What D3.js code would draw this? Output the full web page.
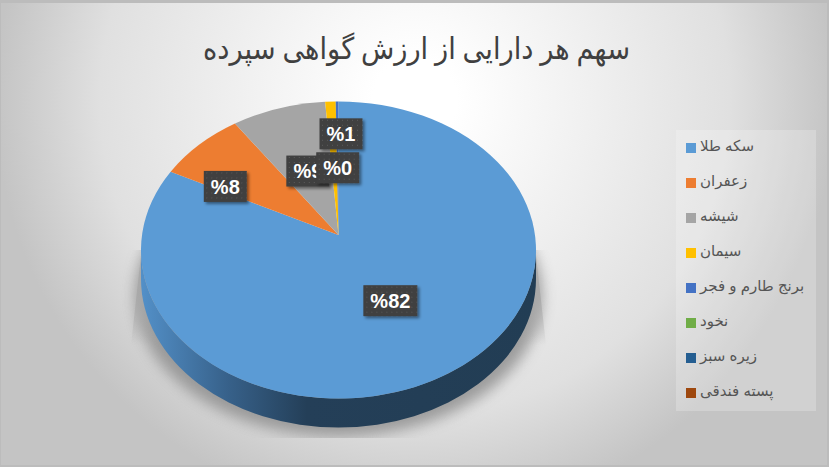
<!DOCTYPE html>
<html>
<head>
<meta charset="utf-8">
<script src="https://cdn.jsdelivr.net/npm/d3@7"></script>
<style>
  html, body { margin: 0; padding: 0; background: #fff; }
  svg { display: block; }
</style>
</head>
<body>
<div id="chart"></div>
<script>
const chartTitle = "سهم هر دارایی از ارزش گواهی سپرده";
const categories = ["سکه طلا", "زعفران", "شیشه", "سیمان", "برنج طارم و فجر", "نخود", "زیره سبز", "پسته فندقی"];
const shares = [82.4, 7.9, 8.5, 0.95, 0.25, 0, 0, 0];
const sliceColors = ["#5b9bd5", "#ed7d31", "#a5a5a5", "#ffc000", "#4472c4", "#70ad47", "#255e91", "#9e480e"];
// hand placed labels, offset in px from the middle of each slice
const labelNudge = [[0, 2.5], [-38.5, 0], [2.5, 6], [7, -27], [0, 7]];
// drawing order of the labels, last one on top
const labelOrder = [0, 1, 2, 3, 4];

const width = 829, height = 467;
// the pie is tilted, so the apex sits above the centre of the ellipse
const cx = 338.5, cy = 250, rx = 197.5, ry = 148.5, apexY = 235, depth = 29;

const svg = d3.select("#chart").append("svg")
    .attr("width", width)
    .attr("height", height)
    .attr("viewBox", [0, 0, width, height]);

const defs = svg.append("defs");

const bg = defs.append("radialGradient")
    .attr("id", "bg")
    .attr("gradientUnits", "userSpaceOnUse")
    .attr("cx", 415).attr("cy", 100).attr("r", 420);
bg.append("stop").attr("offset", "0.1").attr("stop-color", "#ffffff");
bg.append("stop").attr("offset", "0.75").attr("stop-color", "#e0e0e0");
bg.append("stop").attr("offset", "1").attr("stop-color", "#c4c4c4");

const wall = defs.append("linearGradient")
    .attr("id", "wall")
    .attr("gradientUnits", "userSpaceOnUse")
    .attr("x1", cx - rx).attr("x2", cx + rx).attr("y1", 0).attr("y2", 0);
wall.append("stop").attr("offset", "0").attr("stop-color", "#5390c8");
wall.append("stop").attr("offset", "0.22").attr("stop-color", "#37618a");
wall.append("stop").attr("offset", "0.42").attr("stop-color", "#243f58");
wall.append("stop").attr("offset", "1").attr("stop-color", "#223d54");

const wedgeFade = defs.append("linearGradient")
    .attr("id", "wedgeFade")
    .attr("gradientUnits", "userSpaceOnUse")
    .attr("x1", 0).attr("x2", 0).attr("y1", cy - 30).attr("y2", cy + 95);
wedgeFade.append("stop").attr("offset", "0").attr("stop-color", "#a8a8a8").attr("stop-opacity", 0.6);
wedgeFade.append("stop").attr("offset", "0.6").attr("stop-color", "#a8a8a8").attr("stop-opacity", 0.9);
wedgeFade.append("stop").attr("offset", "1").attr("stop-color", "#a8a8a8").attr("stop-opacity", 0);

defs.append("filter").attr("id", "blur")
    .attr("x", "-20%").attr("y", "-20%").attr("width", "140%").attr("height", "140%")
  .append("feGaussianBlur").attr("stdDeviation", 7);

defs.append("clipPath").attr("id", "shadowClip")
  .append("rect").attr("x", 100).attr("y", 250).attr("width", 480).attr("height", 188);

const lblShadow = defs.append("filter").attr("id", "lblShadow")
    .attr("x", "-20%").attr("y", "-20%").attr("width", "150%").attr("height", "150%");
lblShadow.append("feDropShadow")
    .attr("dx", 2).attr("dy", 2).attr("stdDeviation", 1.6)
    .attr("flood-color", "#000").attr("flood-opacity", 0.45);

const dots = defs.append("pattern").attr("id", "dots")
    .attr("patternUnits", "userSpaceOnUse").attr("width", 5).attr("height", 5);
dots.append("rect").attr("width", 5).attr("height", 5).attr("fill", "#404040");
dots.append("rect").attr("x", 1).attr("y", 1).attr("width", 1).attr("height", 1).attr("fill", "#5a5a5a");

// chart area
svg.append("rect").attr("width", width).attr("height", height).attr("fill", "#bcbcbc");
svg.append("rect")
    .attr("x", 1).attr("y", 3)
    .attr("width", width - 3).attr("height", height - 5)
    .attr("fill", "url(#bg)");

svg.append("text")
    .attr("x", 416.5)
    .attr("y", 59)
    .attr("text-anchor", "middle")
    .attr("textLength", 427)
    .attr("lengthAdjust", "spacingAndGlyphs")
    .style("direction", "rtl")
    .style("font-family", "'Liberation Serif','DejaVu Sans',sans-serif")
    .style("font-size", "30px")
    .attr("fill", "#404040")
    .text(chartTitle);

// ground shadow, a round part under the wall and a wedge each side
const shadow = svg.append("g").attr("clip-path", "url(#shadowClip)");
shadow.append("ellipse")
    .attr("cx", cx).attr("cy", cy + 45)
    .attr("rx", rx + 6).attr("ry", ry - 7)
    .attr("fill", "#8f8f8f")
    .attr("opacity", 0.85)
    .attr("filter", "url(#blur)");

svg.append("g").selectAll("path")
  .data([-1, 1])
  .join("path")
    .attr("d", s => `M${cx + s * (rx - 4)},${cy - 30} L${cx + s * (rx + 10)},${cy + 95} L${cx + s * (rx - 40)},${cy + 95} Z`)
    .attr("fill", "url(#wedgeFade)");

// from pie angle to the point where the ray from the apex meets the ellipse
function rimPoint(a) {
  const dx = Math.sin(a) * rx, dy = -Math.cos(a) * ry;
  const o = apexY - cy;
  const A = dx * dx / (rx * rx) + dy * dy / (ry * ry);
  const B = 2 * o * dy / (ry * ry);
  const C = o * o / (ry * ry) - 1;
  const t = (-B + Math.sqrt(B * B - 4 * A * C)) / (2 * A);
  return [cx + dx * t, apexY + dy * t];
}

const pie = d3.pie().sort(null).value(d => d.value);
const color = d3.scaleOrdinal().domain(categories).range(sliceColors);
const arcs = pie(categories.map((name, i) => ({name, value: shares[i]})));

function slicePath(d) {
  const [x0, y0] = rimPoint(d.startAngle);
  const [x1, y1] = rimPoint(d.endAngle);
  const large = d.endAngle - d.startAngle > Math.PI ? 1 : 0;
  return `M${cx},${apexY} L${x0},${y0} A${rx},${ry} 0 ${large} 1 ${x1},${y1} Z`;
}

// side wall, only the front half of the rim shows
svg.append("path")
    .attr("d", `M${cx - rx},${cy} A${rx},${ry} 0 0 0 ${cx + rx},${cy} L${cx + rx},${cy + depth} A${rx},${ry} 0 0 1 ${cx - rx},${cy + depth} Z`)
    .attr("fill", "url(#wall)");

const visible = arcs.filter(d => d.data.value > 0);

svg.append("g").selectAll("path")
  .data(visible)
  .join("path")
    .attr("d", slicePath)
    .attr("fill", d => color(d.data.name));

// data labels
const labels = svg.append("g").selectAll("g")
  .data(labelOrder.map(i => ({arc: visible[i], nudge: labelNudge[i]})))
  .join("g")
    .attr("transform", d => {
      const mid = (d.arc.startAngle + d.arc.endAngle) / 2;
      const x = cx + Math.sin(mid) * rx * 0.5 + d.nudge[0];
      const y = apexY - Math.cos(mid) * ry * 0.5 + d.nudge[1];
      return `translate(${x},${y})`;
    });

labels.append("rect")
    .attr("x", d => d.arc.data.value >= 9.5 ? -27 : -21.5)
    .attr("y", -15.5)
    .attr("width", d => d.arc.data.value >= 9.5 ? 54 : 43)
    .attr("height", 31)
    .attr("fill", "url(#dots)")
    .attr("filter", "url(#lblShadow)");

labels.append("text")
    .attr("text-anchor", "middle")
    .attr("dy", "0.36em")
    .style("font-family", "'Liberation Sans',Arial,sans-serif")
    .style("font-weight", "bold")
    .style("font-size", "20px")
    .style("direction", "ltr")
    .attr("fill", "#fff")
    .text(d => "%" + Math.round(d.arc.data.value));

// legend
const legendBox = svg.append("g");
legendBox.append("rect")
    .attr("x", 676).attr("y", 130)
    .attr("width", 140).attr("height", 281)
    .attr("fill", "#fff").attr("opacity", 0.22);

const y = d3.scalePoint().domain(categories).range([148, 393]);

const items = legendBox.selectAll("g.item")
  .data(categories)
  .join("g")
    .attr("class", "item")
    .attr("transform", d => `translate(686,${y(d)})`);

items.append("rect")
    .attr("y", -5).attr("width", 10).attr("height", 10)
    .attr("fill", d => color(d));

items.append("text")
    .attr("x", 14)
    .attr("dy", "0.2em")
    .attr("text-anchor", "end")
    .style("direction", "rtl")
    .style("font-family", "'Liberation Sans','DejaVu Sans',sans-serif")
    .style("font-size", "15px")
    .attr("fill", "#555")
    .text(d => d);
</script>
</body>
</html>
